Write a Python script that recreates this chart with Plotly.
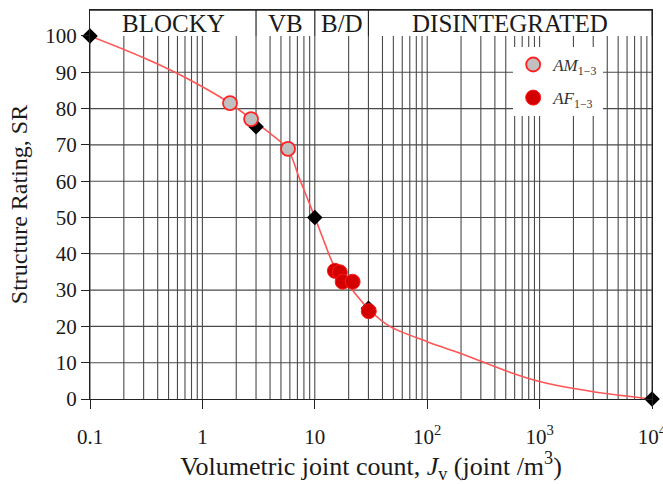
import numpy as np
import plotly.graph_objects as go

# ---- data ----
ref_jv = [0.1, 3, 10, 30, 10000]
ref_sr = [100, 75, 50, 25, 0]

am_jv = [1.76, 2.71, 5.78]
am_sr = [81.5, 77.1, 68.9]

af_jv = [15.1, 16.7, 17.7, 21.7, 30.2]
af_sr = [35.3, 34.9, 32.3, 32.3, 24.2]

curve_jv = [0.1, 0.3, 0.57, 1.0, 1.73, 2.73, 4.0, 5.73, 7.4, 10, 12.3, 15, 20, 30, 46.6, 100, 196, 550, 1000, 3000, 10000]
curve_sr = [100, 94.0, 90.0, 86.0, 81.6, 77.1, 73.2, 68.9, 60.3, 50.1, 42.8, 36.4, 31.3, 24.8, 20.0, 15.8, 12.6, 7.3, 4.8, 2.0, 0]

class_names = ["BLOCKY", "VB", "B/D", "DISINTEGRATED"]
class_bounds = [0.1, 3, 10, 30, 10000]

x_tickvals = [0.1, 1, 10, 100, 1000, 10000]
x_ticktext = ["0.1", "1", "10", "10<sup>2</sup>", "10<sup>3</sup>", "10<sup>4</sup>"]
y_tickvals = list(range(0, 101, 10))

SR_TOP = 107.16
GRID = "#4a4a4a"
FONT = "Liberation Serif, Times New Roman, serif"

fig = go.Figure()

# vertical gridlines (log minor/major)
gx, gy = [], []
for d in range(-1, 4):
    for m in range(1, 10):
        v = m * 10.0 ** d
        gx += [v, v, None]
        gy += [0, 100, None]
gx += [1e4, 1e4, None]
gy += [0, 100, None]
# horizontal gridlines
for s in range(10, 100, 10):
    gx += [0.1, 1e4, None]
    gy += [s, s, None]
fig.add_trace(go.Scatter(x=gx, y=gy, mode="lines", line=dict(color=GRID, width=1.1),
                         hoverinfo="skip", showlegend=False))

# header separators
hx, hy = [], []
for b in class_bounds[1:-1]:
    hx += [b, b, None]
    hy += [100, SR_TOP, None]
fig.add_trace(go.Scatter(x=hx, y=hy, mode="lines", line=dict(color="#222", width=1.2),
                         hoverinfo="skip", showlegend=False))

# fitted curve
fig.add_trace(go.Scatter(x=curve_jv, y=curve_sr, mode="lines",
                         line=dict(color="#ff5555", width=1.6, shape="spline", smoothing=0.9),
                         showlegend=False, hoverinfo="skip"))

# reference diamonds
fig.add_trace(go.Scatter(x=ref_jv, y=ref_sr, mode="markers",
                         marker=dict(symbol="diamond", size=12, color="black"),
                         showlegend=False, cliponaxis=False))

fig.add_trace(go.Scatter(x=am_jv, y=am_sr, mode="markers", name="<i>AM</i><sub>1−3</sub>",
                         legendgroup="am",
                         marker=dict(size=14, color="#c0c0c0", line=dict(color="#ff2222", width=1.8))))
fig.add_trace(go.Scatter(x=af_jv, y=af_sr, mode="markers", name="<i>AF</i><sub>1−3</sub>",
                         legendgroup="af",
                         marker=dict(size=15, color="#d40000", line=dict(color="#ff1a1a", width=1))))

# header labels
for i, name in enumerate(class_names):
    c = 0.5 * (np.log10(class_bounds[i]) + np.log10(class_bounds[i + 1]))
    fig.add_annotation(x=c, y=(100 + SR_TOP) / 2, xref="x", yref="y", text=name,
                       showarrow=False, font=dict(family=FONT, size=25, color="#1a1a1a"))

# header frame (top and right border of the class band)
fig.add_shape(type="line", xref="paper", yref="paper", x0=0, x1=1, y0=1, y1=1,
              line=dict(color="#222", width=1.4))
fig.add_shape(type="line", xref="paper", yref="paper", x0=1, x1=1, y0=100 / SR_TOP, y1=1,
              line=dict(color="#222", width=1.2))

fig.update_layout(
    width=663, height=484,
    margin=dict(l=90, r=11, t=10, b=85, autoexpand=False),
    plot_bgcolor="white", paper_bgcolor="white",
    font=dict(family=FONT, color="#1a1a1a"),
    legend=dict(x=0.753, y=0.905, xanchor="left", yanchor="top", bgcolor="white",
                borderwidth=0, font=dict(family=FONT, size=17, color="#333"),
                tracegroupgap=8),
    xaxis=dict(type="log", range=[-1, 4], tickvals=x_tickvals, ticktext=x_ticktext,
               ticks="outside", ticklen=9, tickcolor="#222", showline=True, linecolor="#222",
               linewidth=1.2, mirror=True, showgrid=False, zeroline=False, automargin=False,
               tickfont=dict(size=21), ticklabelstandoff=10, ticklabeloverflow="allow",
               title=dict(text="Volumetric joint count, <i>J</i><sub>v</sub> (joint /m<sup>3</sup>)",
                          font=dict(size=26), standoff=14)),
    yaxis=dict(range=[0, SR_TOP], tickvals=y_tickvals, ticks="outside", ticklen=8,
               tickcolor="#222", showline=True, linecolor="#222", linewidth=1.2, mirror=True,
               showgrid=False, zeroline=False, automargin=False, tickfont=dict(size=21),
               title=dict(text="Structure Rating, SR", font=dict(size=24), standoff=10)),
)

fig.write_html("out.html", config={"displayModeBar": False},
               post_script="document.body.style.margin='0px';document.body.style.overflow='hidden';")
